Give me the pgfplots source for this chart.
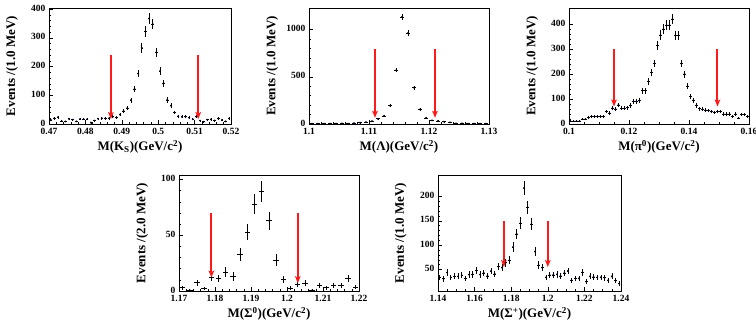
\documentclass[border=0pt]{standalone}
\usepackage{pgfplots}
\pgfplotsset{compat=1.18}
\usepackage{pgfplotstable}
\usepackage{fontspec}
\setmainfont{Liberation Serif}
\usetikzlibrary{arrows.meta}

\pgfplotstableread{
x y
0.4705 14
0.4715 20
0.4725 24
0.4735 10
0.4745 9
0.4755 18
0.4765 15
0.4775 9
0.4785 17
0.4795 17
0.4805 17
0.4815 5
0.4825 12
0.4835 18
0.4845 20
0.4855 20
0.4865 20
0.4875 25
0.4885 22
0.4895 33
0.4905 45
0.4915 55
0.4925 83
0.4935 122
0.4945 176
0.4955 265
0.4965 322
0.4975 367
0.4985 348
0.4995 250
0.5005 184
0.5015 142
0.5025 84
0.5035 64
0.5045 40
0.5055 27
0.5065 25
0.5075 25
0.5085 22
0.5095 17
0.5105 25
0.5115 12
0.5125 8
0.5135 15
0.5145 16
0.5155 12
0.5165 19
0.5175 14
0.5185 9
0.5195 19
}\dataKs

\pgfplotstableread{
x y
1.1005 3
1.1015 3
1.1025 3
1.1035 4
1.1045 5
1.1055 8
1.1065 5
1.1075 10
1.1085 15
1.1095 20
1.1105 30
1.1115 55
1.1125 85
1.1135 195
1.1145 570
1.1155 1135
1.1165 965
1.1175 385
1.1185 155
1.1195 65
1.1205 38
1.1215 33
1.1225 25
1.1235 18
1.1245 8
1.1255 6
1.1265 5
1.1275 4
1.1285 4
1.1295 3
}\dataLam

\pgfplotstableread{
x y
0.1005 11
0.1015 11
0.1025 12
0.1035 12
0.1045 20
0.1055 20
0.1065 27
0.1075 31
0.1085 31
0.1095 31
0.1105 31
0.1115 31
0.1125 50
0.1135 44
0.1145 64
0.1155 60
0.1165 77
0.1175 63
0.1185 63
0.1195 66
0.1205 74
0.1215 91
0.1225 91
0.1235 94
0.1245 134
0.1255 134
0.1265 172
0.1275 208
0.1285 244
0.1295 315
0.1305 358
0.1315 382
0.1325 398
0.1335 398
0.1345 422
0.1355 356
0.1365 356
0.1375 244
0.1385 201
0.1395 153
0.1405 110
0.1415 95
0.1425 75
0.1435 62
0.1445 60
0.1455 56
0.1465 54
0.1475 50
0.1485 46
0.1495 51
0.1505 51
0.1515 40
0.1525 40
0.1535 40
0.1545 31
0.1555 40
0.1565 24
0.1575 39
0.1585 38
0.1595 30
}\dataPi

\pgfplotstableread{
x y
1.171 3
1.173 1
1.175 7.5
1.177 2.4
1.179 12
1.181 11
1.183 17
1.185 13
1.187 33
1.189 53
1.191 78
1.193 89
1.195 63
1.197 27.5
1.199 10
1.201 2.7
1.203 6
1.205 7
1.207 1
1.209 5
1.211 3
1.213 5
1.215 5
1.217 11
1.219 3.5
}\dataSz

\pgfplotstableread{
x y
1.141 34
1.143 31
1.145 44
1.147 34
1.149 36
1.151 36
1.153 38
1.155 32
1.157 40
1.159 40
1.161 48
1.163 40
1.165 43
1.167 37
1.169 47
1.171 41
1.173 56
1.175 54
1.177 64
1.179 69
1.181 96
1.183 123
1.185 145
1.187 217
1.189 178
1.191 143
1.193 87
1.195 59
1.197 54
1.199 34
1.201 39
1.203 39
1.205 40
1.207 37
1.209 43
1.211 47
1.213 28
1.215 32
1.217 32
1.219 44
1.221 25
1.223 36
1.225 35
1.227 34
1.229 34
1.231 33
1.233 28
1.235 36
1.237 27
1.239 21
}\dataSp

\tikzset{redarrow/.style={draw=red!90!white, line width=2pt, -{Stealth[length=7pt,width=5.5pt,inset=1.5pt]}}}

\pgfplotsset{
  rootstyle/.style={
    scale only axis,
    anchor=south west,
    axis line style={line width=0.6pt},
    tick align=inside,
    axis x line*=box, axis y line*=box,
    xtick pos=bottom, ytick pos=left,
    major tick length=4pt, minor tick length=2pt,
    tick style={line width=0.5pt, black},
    scaled ticks=false,
    /pgf/number format/assume math mode=true,
    /pgf/number format/1000 sep={},
    ticklabel style={font=\bfseries\fontsize{9.5}{10}\selectfont},
    xticklabel style={yshift=-0.5pt},
    yticklabel style={yshift=1pt},
    xlabel style={font=\bfseries\fontsize{13}{14}\selectfont, at={(axis description cs:0.5,0)}, anchor=north, inner sep=0pt, yshift=-16pt},
    ylabel style={font=\bfseries\fontsize{13}{14}\selectfont, at={(axis description cs:-0.17,0.5)}, anchor=south, inner sep=0pt},
  },
  datapts/.style={only marks, mark=*, black,
    error bars/.cd, y dir=both, y explicit, x dir=both, x fixed=#1,
    error bar style={line width=0.7pt, black}, error mark=none, /pgfplots/.cd},
}

\begin{document}
\begin{tikzpicture}
\useasboundingbox (0,0) rectangle (756pt,321pt);

% Panel 1: K_S
\begin{axis}[rootstyle, at={(49pt,197pt)}, width=182pt, height=116pt,
  xmin=0.47, xmax=0.52, ymin=0, ymax=404,
  xtick={0.47,0.48,0.49,0.5,0.51,0.52}, minor x tick num=4,
  ytick={0,100,200,300,400}, minor y tick num=4,
  xlabel={M(K\textsubscript{S})(GeV/c\textsuperscript{2})},
  ylabel={Events /(1.0 MeV)}]
\addplot+[datapts=0.00035, mark size=0.7pt] table[x=x, y=y, y error expr=sqrt(\thisrow{y})] {\dataKs};
\draw[redarrow] (axis cs:0.487,240) -- (axis cs:0.487,17);
\draw[redarrow] (axis cs:0.511,240) -- (axis cs:0.511,17);
\end{axis}

% Panel 2: Lambda
\begin{axis}[rootstyle, at={(309pt,197pt)}, width=180pt, height=116pt,
  xmin=1.1, xmax=1.13, ymin=0, ymax=1230,
  xtick={1.1,1.11,1.12,1.13}, minor x tick num=4,
  ytick={0,500,1000}, minor y tick num=4,
  xlabel={M(Λ)(GeV/c\textsuperscript{2})},
  ylabel={Events /(1.0 MeV)}]
\addplot+[datapts=0.00035, mark size=0.7pt] table[x=x, y=y, y error expr=sqrt(\thisrow{y})] {\dataLam};
\draw[redarrow] (axis cs:1.111,800) -- (axis cs:1.111,65);
\draw[redarrow] (axis cs:1.121,800) -- (axis cs:1.121,65);
\end{axis}

% Panel 3: pi0
\begin{axis}[rootstyle, at={(569pt,197pt)}, width=180pt, height=116pt,
  xmin=0.1, xmax=0.16, ymin=0, ymax=467,
  xtick={0.1,0.12,0.14,0.16}, minor x tick num=3,
  ytick={0,100,200,300,400}, minor y tick num=4,
  xlabel={M(π\textsuperscript{0})(GeV/c\textsuperscript{2})},
  ylabel={Events /(1.0 MeV)}]
\addplot+[datapts=0.00035, mark size=0.7pt] table[x=x, y=y, y error expr=sqrt(\thisrow{y})] {\dataPi};
\draw[redarrow] (axis cs:0.115,300) -- (axis cs:0.115,70);
\draw[redarrow] (axis cs:0.1495,300) -- (axis cs:0.1495,70);
\end{axis}

% Panel 4: Sigma0
\begin{axis}[rootstyle, at={(179pt,30pt)}, width=180pt, height=116pt,
  xmin=1.17, xmax=1.22, ymin=0, ymax=104,
  xtick={1.17,1.18,1.19,1.2,1.21,1.22}, minor x tick num=4,
  ytick={0,50,100}, minor y tick num=4,
  xlabel={M(Σ\textsuperscript{0})(GeV/c\textsuperscript{2})},
  ylabel={Events /(2.0 MeV)}]
\addplot+[datapts=0.00075, mark size=0.3pt] table[x=x, y=y, y error expr=sqrt(\thisrow{y})] {\dataSz};
\draw[redarrow] (axis cs:1.179,70) -- (axis cs:1.179,12);
\draw[redarrow] (axis cs:1.203,70) -- (axis cs:1.203,7);
\end{axis}

% Panel 5: Sigma+
\begin{axis}[rootstyle, at={(438pt,30pt)}, width=183pt, height=116pt,
  xmin=1.14, xmax=1.24, ymin=6, ymax=244,
  xtick={1.14,1.16,1.18,1.2,1.22,1.24}, minor x tick num=3,
  ytick={50,100,150,200}, minor y tick num=4,
  xlabel={M(Σ\textsuperscript{+})(GeV/c\textsuperscript{2})},
  ylabel={Events /(1.0 MeV)}]
\addplot+[datapts=0.0007, mark size=0.7pt] table[x=x, y=y, y error expr=sqrt(\thisrow{y})] {\dataSp};
\draw[redarrow] (axis cs:1.176,150) -- (axis cs:1.176,55);
\draw[redarrow] (axis cs:1.2,150) -- (axis cs:1.2,55);
\end{axis}
\end{tikzpicture}
\end{document}
